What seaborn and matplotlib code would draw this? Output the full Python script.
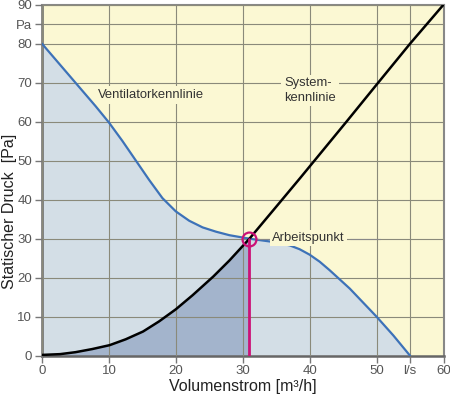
import matplotlib
matplotlib.use("Agg")
import matplotlib.pyplot as plt
import seaborn as sns
import pandas as pd

# Ventilatorkennlinie (fan curve)
fan_x = [0, 4, 8, 10, 12, 14, 16, 18, 20, 22, 24, 26, 28, 31,
         34, 37, 38.5, 40, 41.5, 43, 46, 48, 50, 52.5, 55]
fan_y = [80, 72, 64, 59.8, 55.1, 50.1, 45.1, 40.4, 37, 34.6, 32.9, 31.8, 30.9, 30,
         29.3, 28.3, 27.3, 25.9, 24.1, 21.9, 17.2, 13.6, 10.0, 5.2, 0]

# Systemkennlinie (system curve)
sys_x = [0, 2.7, 5, 7.5, 10.1, 12.5, 15.1, 17.5, 20, 22.5, 25.6, 28, 31,
         35, 38.6, 45.5, 50, 55, 60]
sys_y = [0.2, 0.4, 0.9, 1.7, 2.7, 4.2, 6.2, 8.8, 11.9, 15.5, 20.3, 24.4, 30,
         38.2, 45.6, 60.0, 69.5, 80, 90]

# Arbeitspunkt (operating point)
op_x = 31.0
op_y = 30.0

x_ticks = [0, 10, 20, 30, 40, 50, 55, 60]
x_labels = ["0", "10", "20", "30", "40", "50", "l/s", "60"]
y_ticks = [0, 10, 20, 30, 40, 50, 60, 70, 80, 85, 90]
y_labels = ["0", "10", "20", "30", "40", "50", "60", "70", "80", "Pa", "90"]

yellow = "#fbf8d3"
light_blue = "#d3dee6"
dark_blue = "#a3b4cc"
fan_blue = "#3d72b8"
magenta = "#cc1177"
grey = "#555555"

sns.set_style("ticks")
plt.rcParams["font.family"] = ["Liberation Sans", "DejaVu Sans"]

fan_df = pd.DataFrame({"x": fan_x, "y": fan_y})
sys_df = pd.DataFrame({"x": sys_x, "y": sys_y})

fig = plt.figure(figsize=(4.5, 3.95), dpi=100)
ax = fig.add_axes([42 / 450, 39.3 / 395, 401.5 / 450, 351 / 395])
ax.set_facecolor(yellow)

ax.fill_between(fan_x, fan_y, 0, color=light_blue, lw=0, zorder=1)
mask = sys_df[sys_df["x"] <= op_x]
ax.fill_between(mask["x"], mask["y"], 0, color=dark_blue, lw=0, zorder=1.1)

ax.set_axisbelow(False)
ax.grid(True, color="#8a8a7a", lw=0.8, zorder=1.5)

sns.lineplot(data=fan_df, x="x", y="y", color=fan_blue, lw=1.6, sort=False,
             ax=ax, zorder=3, solid_joinstyle="round")
sns.lineplot(data=sys_df, x="x", y="y", color="black", lw=1.8, sort=False,
             ax=ax, zorder=3, solid_joinstyle="round")

ax.plot([op_x, op_x], [0, op_y], color=magenta, lw=2, zorder=4)
ax.plot([op_x], [op_y], marker="o", ms=10, mfc="none", mec=magenta, mew=1.6, zorder=5)

# leader lines for "Arbeitspunkt"
ax.plot([32.2, 34.2], [op_y, op_y], color="#888888", lw=0.8, zorder=3)
ax.plot([46.0, 50.5], [op_y, op_y], color="#888888", lw=0.8, zorder=3)

txt_kw = dict(fontsize=9.4, color="#333333", zorder=6)
ax.text(8.3, 66.8, "Ventilatorkennlinie", va="center", ha="left",
        bbox=dict(fc=yellow, ec="none", pad=2), **txt_kw)
ax.text(36.2, 68.0, "System-\nkennlinie", va="center", ha="left", linespacing=1.25,
        bbox=dict(fc=yellow, ec="none", pad=2), **txt_kw)
ax.text(34.4, 30.2, "Arbeitspunkt", va="center", ha="left",
        bbox=dict(fc=yellow, ec="none", pad=1.5), **txt_kw)

ax.set_xlim(0, 60)
ax.set_ylim(0, 90)
ax.set_xticks(x_ticks)
ax.set_xticklabels(x_labels)
ax.set_yticks(y_ticks)
ax.set_yticklabels(y_labels)
for lab in ax.get_yticklabels():
    if lab.get_text() == "Pa":
        lab.set_fontsize(8)
ax.tick_params(axis="both", colors="#777777", labelcolor=grey, labelsize=9.5,
               length=5, width=1, pad=2)

for side in ["top", "right"]:
    ax.spines[side].set_visible(True)
    ax.spines[side].set_color("#888888")
    ax.spines[side].set_linewidth(1.5)
for side in ["left", "bottom"]:
    ax.spines[side].set_color("#666666")
    ax.spines[side].set_linewidth(1.8)

ax.set_xlabel("Volumenstrom [m³/h]", fontsize=11.5, color="#222222")
ax.set_ylabel("Statischer Druck  [Pa]", fontsize=11.5, color="#222222")
ax.xaxis.set_label_coords(0.5, -0.088)
ax.xaxis.label.set_va("center")
ax.yaxis.set_label_coords(-0.08, 0.41)
ax.yaxis.label.set_va("center")

fig.savefig("out.png", dpi=100)
